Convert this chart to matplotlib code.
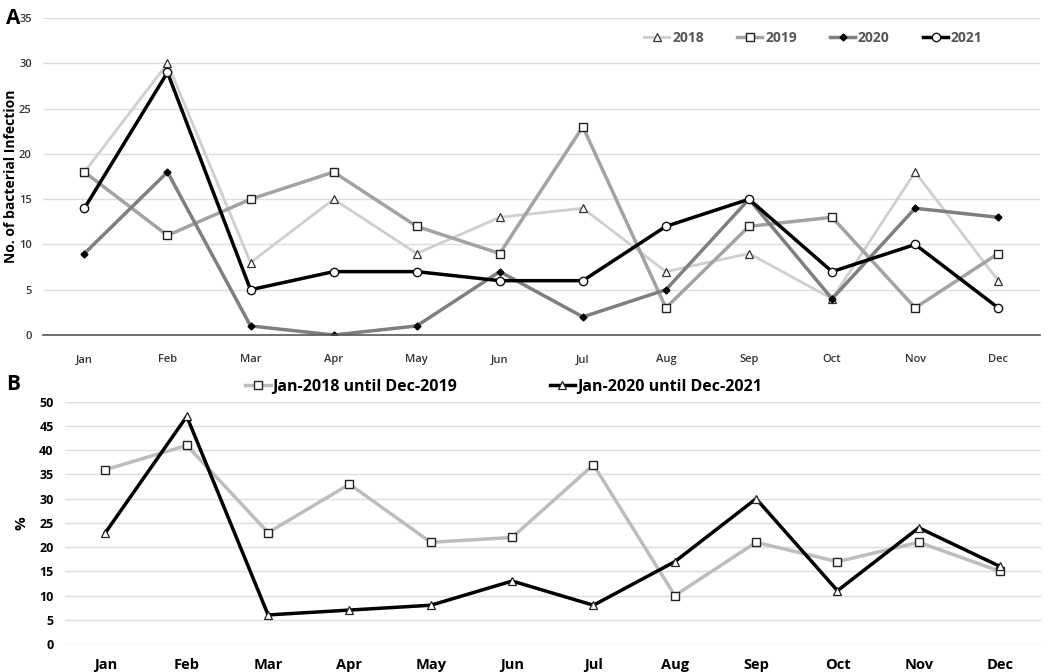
import numpy as np
import matplotlib.pyplot as plt

plt.rcParams['font.family'] = ['Open Sans', 'DejaVu Sans']

months = ['Jan', 'Feb', 'Mar', 'Apr', 'May', 'Jun',
          'Jul', 'Aug', 'Sep', 'Oct', 'Nov', 'Dec']

# panel A: number of bacterial infections per month
y2018 = [18, 30, 8, 15, 9, 13, 14, 7, 9, 4, 18, 6]
y2019 = [18, 11, 15, 18, 12, 9, 23, 3, 12, 13, 3, 9]
y2020 = [9, 18, 1, 0, 1, 7, 2, 5, 15, 4, 14, 13]
y2021 = [14, 29, 5, 7, 7, 6, 6, 12, 15, 7, 10, 3]

# panel B: percentage per period
pre_covid = [36, 41, 23, 33, 21, 22, 37, 10, 21, 17, 21, 15]
covid = [23, 47, 6, 7, 8, 13, 8, 17, 30, 11, 24, 16]

fig = plt.figure(figsize=(10.45, 6.72), dpi=100)
x = np.arange(len(months))

# ---- panel A
ax1 = fig.add_axes([0.041, 0.5015, 0.954, 0.4715])
ax1.plot(x, y2018, color='#cfcfcf', lw=2, marker='^', ms=5.5,
         mfc='white', mec='#333333', mew=0.9, label='2018')
ax1.plot(x, y2019, color='#a3a3a3', lw=2.5, marker='s', ms=5.5,
         mfc='white', mec='#222222', mew=1.0, label='2019')
ax1.plot(x, y2020, color='#7f7f7f', lw=2.5, marker='D', ms=3.5,
         mfc='black', mec='black', label='2020')
ax1.plot(x, y2021, color='black', lw=2.5, marker='o', ms=6,
         mfc='white', mec='#111111', mew=1.0, label='2021')

ax1.set_xlim(-0.5, 11.5)
ax1.set_ylim(0, 35)
ax1.set_yticks(range(0, 36, 5))
ax1.set_xticks(x)
ax1.set_xticklabels(months)
ax1.grid(axis='y', color='#dddddd', lw=1)
ax1.set_axisbelow(True)
for s in ['top', 'right', 'left']:
    ax1.spines[s].set_visible(False)
ax1.spines['bottom'].set_color('#555555')
ax1.spines['bottom'].set_linewidth(1.2)
ax1.tick_params(axis='y', length=0, labelsize=8, labelcolor='#333333', pad=8)
ax1.tick_params(axis='x', length=0, labelsize=8, labelcolor='#333333', pad=14)
for t in ax1.get_xticklabels() + ax1.get_yticklabels():
    t.set_fontweight('semibold')
fig.text(0.011, 0.738, 'No. of bacterial Infection', fontsize=10,
         fontweight='bold', rotation=90, ha='center', va='center')
leg1 = ax1.legend(loc='upper right', bbox_to_anchor=(0.955, 1.0), ncol=4,
                  frameon=False, handlelength=1.8, columnspacing=2.4,
                  handletextpad=0.2,
                  prop={'size': 10, 'weight': 'bold'})
for t in leg1.get_texts():
    t.set_color('#555555')

# ---- panel B
ax2 = fig.add_axes([0.062, 0.0417, 0.934, 0.3603])
ax2.plot(x, pre_covid, color='#bdbdbd', lw=2.5, marker='s', ms=5.5,
         mfc='white', mec='#222222', mew=1.0, label='Jan-2018 until Dec-2019')
ax2.plot(x, covid, color='black', lw=2.5, marker='^', ms=5.5,
         mfc='white', mec='#222222', mew=0.9, label='Jan-2020 until Dec-2021')

ax2.set_xlim(-0.5, 11.5)
ax2.set_ylim(0, 50)
ax2.set_yticks(range(0, 51, 5))
ax2.set_xticks(x)
ax2.set_xticklabels(months)
ax2.grid(axis='y', color='#dddddd', lw=1)
ax2.set_axisbelow(True)
for s in ax2.spines.values():
    s.set_visible(False)
ax2.tick_params(axis='y', length=0, labelsize=9, pad=8)
ax2.tick_params(axis='x', length=0, labelsize=10.5, pad=10)
for t in ax2.get_xticklabels() + ax2.get_yticklabels():
    t.set_fontweight('bold')
ax2.set_ylabel('%', fontsize=11, fontweight='bold', labelpad=8)
ax2.legend(loc='lower left', bbox_to_anchor=(0.17, 0.97), ncol=2,
           frameon=False, handlelength=1.6, columnspacing=5.8,
           handletextpad=0.1, prop={'size': 11.5, 'weight': 'bold'})

fig.text(0.006, 0.972, 'A', fontsize=15, fontweight='bold', va='center')
fig.text(0.006, 0.428, 'B', fontsize=15, fontweight='bold', va='center')

fig.savefig('out.png', dpi=100)
